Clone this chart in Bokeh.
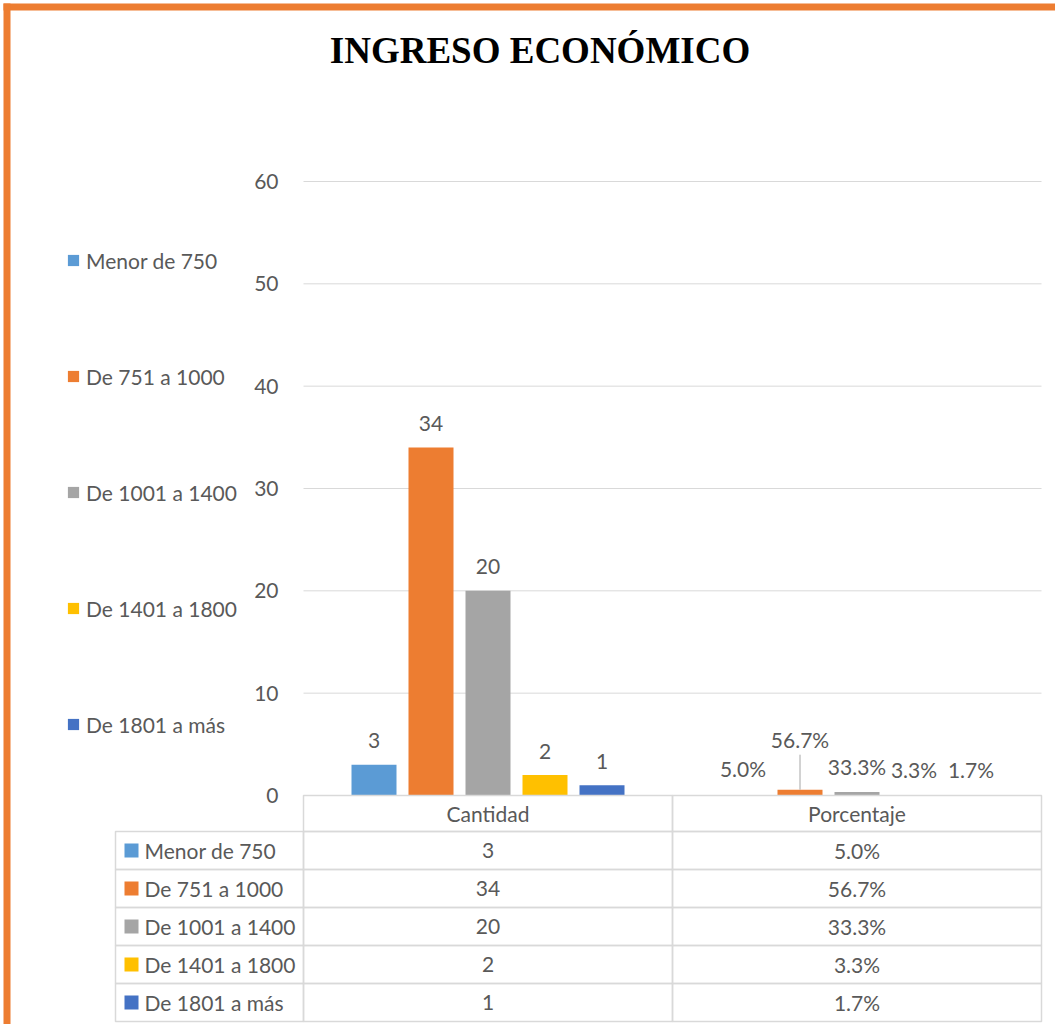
from bokeh.plotting import figure
from bokeh.models import Range1d, Legend, LegendItem, ColumnDataSource
from bokeh.embed import file_html
from bokeh.resources import INLINE
from bokeh.core.properties import value

# ---------------- data ----------------
TITLE = "INGRESO ECONÓMICO"
categories = ["Menor de 750", "De 751 a 1000", "De 1001 a 1400", "De 1401 a 1800", "De 1801 a más"]
groups = ["Cantidad", "Porcentaje"]
cantidad = [3, 34, 20, 2, 1]
porcentaje = [0.050, 0.567, 0.333, 0.033, 0.017]
y_ticks = [0, 10, 20, 30, 40, 50, 60]

# ---------------- styles ----------------
colors = ["#5B9BD5", "#ED7D31", "#A5A5A5", "#FFC000", "#4472C4"]
FONT = "Lato"
FS = "21px"
TXT = "#595959"
GRID = "#D9D9D9"
BORDER = "#ED7D31"

W, H = 1055, 1024            # canvas size
ORIG_X, ORIG_Y = 303, 795    # canvas px of data (0, 0)
UNIT = 369.0                 # px per category group
PXY = 614.0 / 60.0           # px per y unit
HEADER_H = 36.0              # px, header row of the data table
ROW_H = 38.0                 # px, data table rows
LAB_COL_W = 188.0            # px, label column of the data table
BAR_STEP = 57.0 / UNIT
BAR_W = 45.0 / UNIT
CNT_OFF = -24                            # px, Cantidad label offset
PCT_OFF = [-26, -50, -26, -26, -26]      # px, Porcentaje label offsets per series
LEADER_PX = 35.0
BORDER_IN, BORDER_OUT = 3.0, 10.0

def pct_text(v):
    return f"{v * 100:.1f}%"

x_start = -ORIG_X / UNIT
x_end = x_start + W / UNIT
y_end = ORIG_Y / PXY
y_start = y_end - H / PXY
p = figure(width=W, height=H, min_border=0,
           x_range=Range1d(x_start, x_end), y_range=Range1d(y_start, y_end),
           x_axis_type=None, y_axis_type=None,
           output_backend="svg", toolbar_location=None)
p.outline_line_color = None
p.background_fill_color = "white"
p.border_fill_color = "white"

# orange frame of the chart area (top and left edges)
p.quad(left=[x_start + BORDER_IN / UNIT, x_start + BORDER_IN / UNIT],
       right=[x_end, x_start + BORDER_OUT / UNIT],
       top=[y_end - BORDER_IN / PXY, y_end - BORDER_IN / PXY],
       bottom=[y_end - BORDER_OUT / PXY, y_start],
       fill_color=BORDER, line_color=None)

# title
p.text(x=[(539.5 - ORIG_X) / UNIT], y=[(ORIG_Y - 49.5) / PXY], text=[TITLE],
       text_align="center", text_baseline="middle",
       text_font=value("Liberation Serif"), text_font_size="37px",
       text_font_style="bold", text_color="black")

# value axis: gridlines and tick labels
p.segment(x0=[0] * len(y_ticks), x1=[len(groups)] * len(y_ticks), y0=y_ticks, y1=y_ticks,
          line_color=GRID, line_width=1)
p.text(x=[0] * len(y_ticks), y=y_ticks, text=[str(t) for t in y_ticks], x_offset=-25,
       text_align="right", text_baseline="middle",
       text_font=value(FONT), text_font_size=FS, text_color=TXT)

# bars + data labels
items = []
for i, cat in enumerate(categories):
    xs = [g + 0.5 + (i - 2) * BAR_STEP for g in range(len(groups))]
    src = ColumnDataSource(dict(x=xs, top=[cantidad[i], porcentaje[i]],
                                label=[str(cantidad[i]), pct_text(porcentaje[i])],
                                yoff=[CNT_OFF, PCT_OFF[i]]))
    r = p.vbar(x="x", top="top", bottom=0, width=BAR_W, source=src,
               fill_color=colors[i], line_color=None)
    p.text(x="x", y="top", text="label", source=src, y_offset="yoff",
           text_align="center", text_baseline="middle",
           text_font=value(FONT), text_font_size=FS, text_color=TXT)
    if PCT_OFF[i] < -30:
        p.segment(x0=[xs[1]], y0=[porcentaje[i]], x1=[xs[1]],
                  y1=[porcentaje[i] + LEADER_PX / PXY], line_color="#A6A6A6", line_width=1)
    items.append(LegendItem(label=cat, renderers=[r]))

# data table: header row
hb = -HEADER_H / PXY
p.quad(left=list(range(len(groups))), right=[g + 1 for g in range(len(groups))],
       top=[0] * len(groups), bottom=[hb] * len(groups),
       fill_color=None, line_color=GRID, line_width=1.5)
p.text(x=[g + 0.5 for g in range(len(groups))], y=[hb / 2] * len(groups), text=groups,
       text_align="center", text_baseline="middle",
       text_font=value(FONT), text_font_size=FS, text_color=TXT)

# data table: body rows
n = len(categories)
row_top = [-(HEADER_H + ROW_H * k) / PXY for k in range(n)]
row_bot = [-(HEADER_H + ROW_H * (k + 1)) / PXY for k in range(n)]
row_mid = [(a + b) / 2 for a, b in zip(row_top, row_bot)]
lab_l = -LAB_COL_W / UNIT
p.quad(left=[lab_l] * n, right=[0] * n, top=row_top, bottom=row_bot,
       fill_color=None, line_color=GRID, line_width=1.5)
for g in range(len(groups)):
    p.quad(left=[g] * n, right=[g + 1] * n, top=row_top, bottom=row_bot,
           fill_color=None, line_color=GRID, line_width=1.5)
p.rect(x=[lab_l + 16 / UNIT] * n, y=row_mid, width=14, height=14,
       width_units="screen", height_units="screen", fill_color=colors, line_color=None)
p.text(x=[lab_l + 29 / UNIT] * n, y=row_mid, text=categories, text_align="left",
       text_baseline="middle", text_font=value(FONT), text_font_size=FS, text_color=TXT)
p.text(x=[0.5] * n, y=row_mid, text=[str(v) for v in cantidad], text_align="center",
       text_baseline="middle", text_font=value(FONT), text_font_size=FS, text_color=TXT)
p.text(x=[1.5] * n, y=row_mid, text=[pct_text(v) for v in porcentaje], text_align="center",
       text_baseline="middle", text_font=value(FONT), text_font_size=FS, text_color=TXT)

# legend (left side)
legend = Legend(items=items, location=(66, 286), orientation="vertical",
                glyph_width=14, glyph_height=14, label_standoff=6, label_height=28,
                spacing=88, padding=0, margin=0,
                label_text_font=FONT, label_text_font_size=FS, label_text_color=TXT,
                border_line_color=None, background_fill_alpha=0)
p.add_layout(legend, "center")

open("out.html", "w").write(file_html(p, INLINE))
